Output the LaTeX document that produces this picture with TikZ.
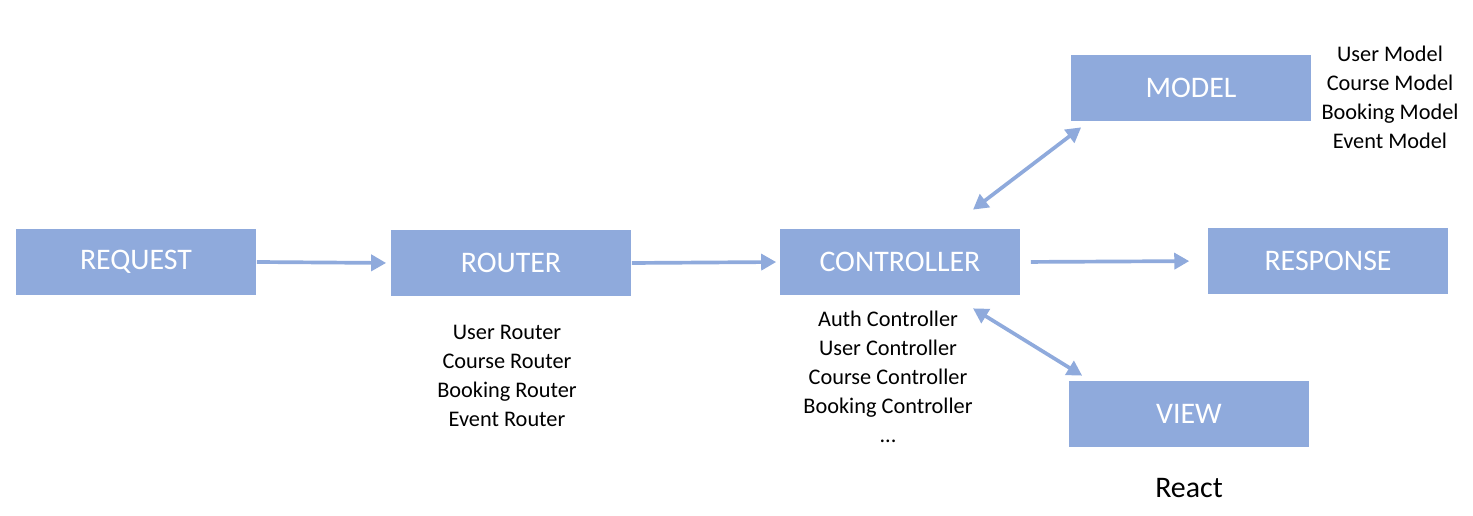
\documentclass[tikz,border=0pt]{standalone}
\usepackage{fontspec}
\setmainfont{Carlito}
\usetikzlibrary{arrows.meta}
\definecolor{boxblue}{HTML}{8FAADC}

\begin{document}
\begin{tikzpicture}[x=0.02cm, y=-0.02cm,
  block/.style={fill=boxblue, minimum width=4.82cm, minimum height=1.32cm, inner sep=0pt, text=white, font=\fontsize{17}{20}\selectfont},
  flow/.style={draw=boxblue, line width=2.1pt, -{Triangle[length=0.3cm, width=0.32cm]}},
  both/.style={flow, {Triangle[length=0.3cm, width=0.32cm]}-{Triangle[length=0.3cm, width=0.32cm]}},
  list/.style={align=center, font=\fontsize{12.7}{16.5}\selectfont}]
  \useasboundingbox (0,0) rectangle (1473,516);
  % main blocks
  \node[block] (request) at (136,262) {REQUEST};
  \node[block] (router) at (511,263) {ROUTER};
  \node[block] (ctrl) at (900,262) {CONTROLLER};
  \node[block] (response) at (1328,261) {RESPONSE};
  \node[block] (model) at (1191,88) {MODEL};
  \node[block] (view) at (1189,414) {VIEW};
  % notes under and beside the blocks
  \node[list] (routers) at (507,376) {User Router\\Course Router\\Booking Router\\Event Router};
  \node[list] (ctrls) at (888,377) {Auth Controller\\User Controller\\Course Controller\\Booking Controller\\...};
  \node[list] (models) at (1390,97) {User Model\\Course Model\\Booking Model\\Event Model};
  \node[font=\fontsize{17}{20}\selectfont] (react) at (1189,488) {React};
  % connectors
  \draw[flow, shorten >=2.3pt] (request.east) -- (router.west);
  \draw[flow, shorten >=1.7pt] (router.east) -- (ctrl.west);
  \draw[flow, shorten <=5.7pt, shorten >=10.2pt] (ctrl.east) -- (response.west);
  \draw[both] ([shift={(73,-19)}]ctrl.north) -- ([shift={(11,6)}]model.south west);
  \draw[both] ([shift={(73,13)}]ctrl.south) -- ([shift={(14,-5)}]view.north west);
\end{tikzpicture}
\end{document}
